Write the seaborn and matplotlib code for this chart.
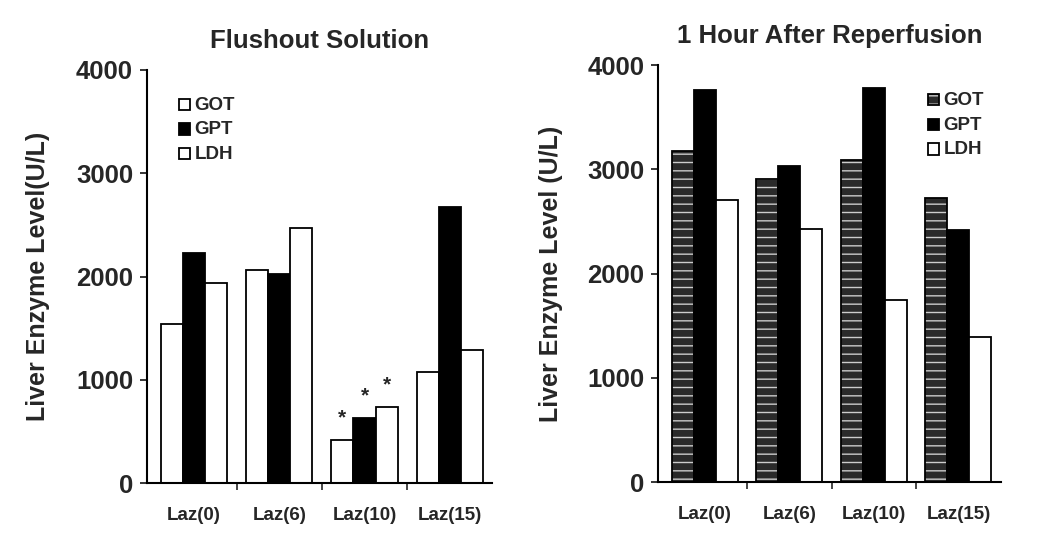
import pandas as pd
import matplotlib.pyplot as plt
import seaborn as sns
from matplotlib.patches import Patch

groups = ["Laz(0)", "Laz(6)", "Laz(10)", "Laz(15)"]
enzymes = ["GOT", "GPT", "LDH"]

flush_got = [1540, 2065, 420, 1080]
flush_gpt = [2225, 2030, 630, 2670]
flush_ldh = [1935, 2475, 740, 1290]

reperf_got = [3180, 2910, 3090, 2720]
reperf_gpt = [3760, 3030, 3775, 2415]
reperf_ldh = [2705, 2430, 1745, 1390]

star_groups = ["Laz(10)"]

sns.set_theme(style="ticks")
plt.rcParams["font.family"] = ["Liberation Sans", "DejaVu Sans"]
plt.rcParams["hatch.linewidth"] = 1.0


def long_df(got, gpt, ldh):
    rows = []
    for name, vals in zip(enzymes, [got, gpt, ldh]):
        for g, v in zip(groups, vals):
            rows.append({"group": g, "enzyme": name, "value": v})
    return pd.DataFrame(rows)


def style_axis(ax, title, ylabel):
    ax.set_xlim(-0.55, 3.5)
    ax.set_ylim(0, 4000)
    ax.set_yticks([0, 1000, 2000, 3000, 4000])
    ax.set_title(title, fontsize=18.5, fontweight="bold", pad=16)
    ax.set_ylabel(ylabel, fontsize=18, fontweight="bold")
    ax.yaxis.set_label_coords(-0.28, 0.5)
    ax.set_xlabel("")
    ax.tick_params(axis="y", labelsize=18.5, length=5, width=1.3, pad=5)
    ax.tick_params(axis="x", labelsize=13.5, length=0, pad=17)
    for lab in ax.get_yticklabels() + ax.get_xticklabels():
        lab.set_fontweight("bold")
    ax.set_xticks([0.5, 1.5, 2.5], minor=True)
    ax.tick_params(axis="x", which="minor", length=5, width=1.2)
    sns.despine(ax=ax)
    for s in ["left", "bottom"]:
        ax.spines[s].set_linewidth(1.5)
        ax.spines[s].set_color("black")


def add_legend(ax, handles, x):
    leg = ax.legend(handles, enzymes, loc="upper left", bbox_to_anchor=(x, 0.95),
                    frameon=False, handlelength=0.75, handleheight=0.75,
                    handletextpad=0.25, labelspacing=0.5, borderaxespad=0)
    for t in leg.get_texts():
        t.set_fontsize(13.5)
        t.set_fontweight("bold")


fig = plt.figure(figsize=(10.5, 5.51), dpi=100)
ax1 = fig.add_axes([0.140, 0.123, 0.329, 0.750])
ax2 = fig.add_axes([0.627, 0.125, 0.326, 0.757])

# left panel
df1 = long_df(flush_got, flush_gpt, flush_ldh)
sns.barplot(data=df1, x="group", y="value", hue="enzyme", order=groups,
            hue_order=enzymes, palette=["white", "black", "white"],
            width=0.78, gap=0, edgecolor="black", linewidth=1.3,
            legend=False, ax=ax1)
style_axis(ax1, "Flushout Solution", "Liver Enzyme Level(U/L)")

# asterisks over Laz(10)
for cont in ax1.containers:
    for g, bar in zip(groups, cont):
        if g in star_groups:
            ax1.text(bar.get_x() + bar.get_width() / 2, bar.get_height() + 120,
                     "*", ha="center", va="bottom", fontsize=15,
                     fontweight="bold")

add_legend(ax1, [Patch(facecolor="white", edgecolor="black", linewidth=1.3),
                 Patch(facecolor="black", edgecolor="black", linewidth=1.3),
                 Patch(facecolor="white", edgecolor="black", linewidth=1.3)], 0.075)

# right panel
df2 = long_df(reperf_got, reperf_gpt, reperf_ldh)
sns.barplot(data=df2, x="group", y="value", hue="enzyme", order=groups,
            hue_order=enzymes, palette=["#2a2a2a", "black", "white"],
            width=0.78, gap=0, edgecolor="black", linewidth=1.3,
            legend=False, ax=ax2)
style_axis(ax2, "1 Hour After Reperfusion", "Liver Enzyme Level (U/L)")

for bar in ax2.containers[0]:
    bar.set_hatch("--")
    bar._hatch_color = (0.8, 0.8, 0.8, 1.0)

got_handle = Patch(facecolor="#2a2a2a", edgecolor="black", linewidth=1.3, hatch="--")
got_handle._hatch_color = (0.8, 0.8, 0.8, 1.0)
add_legend(ax2, [got_handle,
                 Patch(facecolor="black", edgecolor="black", linewidth=1.3),
                 Patch(facecolor="white", edgecolor="black", linewidth=1.3)], 0.77)

fig.savefig("out.png", dpi=100)
plt.close(fig)
